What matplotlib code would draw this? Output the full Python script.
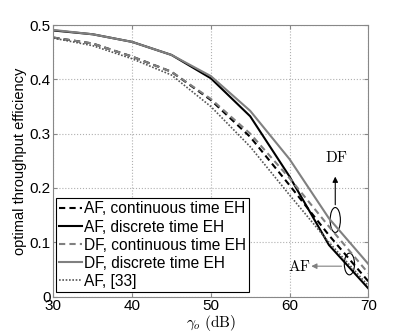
import matplotlib
matplotlib.use("Agg")
import matplotlib.pyplot as plt
from matplotlib.patches import Ellipse

plt.rcParams['font.family'] = ['Liberation Sans', 'DejaVu Sans']
plt.rcParams['mathtext.fontset'] = 'cm'

gamma = [30, 35, 40, 45, 50, 55, 60, 65, 70]
af_cont = [0.477, 0.466, 0.442, 0.414, 0.362, 0.294, 0.205, 0.113, 0.028]
af_disc = [0.490, 0.483, 0.469, 0.445, 0.402, 0.332, 0.221, 0.095, 0.015]
df_cont = [0.477, 0.466, 0.442, 0.414, 0.364, 0.300, 0.218, 0.129, 0.043]
df_disc = [0.491, 0.483, 0.469, 0.445, 0.406, 0.342, 0.253, 0.144, 0.060]
af_ref = [0.476, 0.462, 0.438, 0.408, 0.350, 0.276, 0.187, 0.100, 0.020]

labels = ['AF, continuous time EH', 'AF, discrete time EH',
          'DF, continuous time EH', 'DF, discrete time EH', 'AF, [33]']

gray = '#808080'
fig = plt.figure(figsize=(4.07, 3.34), dpi=100)
ax = fig.add_axes([0.131, 0.112, 0.774, 0.813])

ax.plot(gamma, af_cont, color='black', ls=(0, (3, 2)), lw=1.5, label=labels[0])
ax.plot(gamma, af_disc, color='black', ls='-', lw=1.5, label=labels[1])
ax.plot(gamma, df_cont, color=gray, ls=(0, (3, 2)), lw=1.5, label=labels[2])
ax.plot(gamma, df_disc, color=gray, ls='-', lw=1.5, label=labels[3])
ax.plot(gamma, af_ref, color='#555555', ls=(0, (1, 1)), lw=1.2, label=labels[4])

ax.set_xlim(30, 70)
ax.set_ylim(0, 0.5)
ax.set_xticks([30, 40, 50, 60, 70])
ax.set_yticks([0, 0.1, 0.2, 0.3, 0.4, 0.5])
ax.set_yticklabels(['0', '0.1', '0.2', '0.3', '0.4', '0.5'])
ax.grid(True, ls=':', color='#b0b0b0', lw=0.8)
ax.tick_params(direction='in', top=True, right=True, labelsize=11, length=3,
               color='#888888', pad=2)
for s in ax.spines.values():
    s.set_color('#888888')

ax.set_xlabel(r'$\gamma_o\ \mathrm{(dB)}$', fontsize=11, labelpad=0)
ax.set_ylabel('optimal throughput efficiency', fontsize=10.5, labelpad=2)

# annotations
ax.add_patch(Ellipse((65.8, 0.141), 1.3, 0.046, fill=False, color='black', lw=0.8))
ax.annotate('', xy=(65.8, 0.226), xytext=(65.8, 0.164),
            arrowprops=dict(arrowstyle='-|>', color='black', lw=0.8, mutation_scale=8))
ax.text(66.0, 0.257, r'$\mathrm{DF}$', fontsize=11, ha='center', va='center')
ax.add_patch(Ellipse((67.6, 0.060), 1.3, 0.040, fill=False, color='black', lw=0.8))
ax.annotate('', xy=(62.4, 0.056), xytext=(66.95, 0.056),
            arrowprops=dict(arrowstyle='-|>', color=gray, lw=0.8, mutation_scale=8))
ax.text(61.2, 0.056, r'$\mathrm{AF}$', fontsize=11, ha='center', va='center')

leg = ax.legend(loc='lower left', bbox_to_anchor=(0.008, 0.017), fontsize=11.2,
                frameon=True, fancybox=False, edgecolor='black', framealpha=1,
                handlelength=1.5, handletextpad=0.1, borderpad=0.2,
                labelspacing=0.2, borderaxespad=0)
leg.get_frame().set_linewidth(0.8)

fig.savefig('out.png', dpi=100)
